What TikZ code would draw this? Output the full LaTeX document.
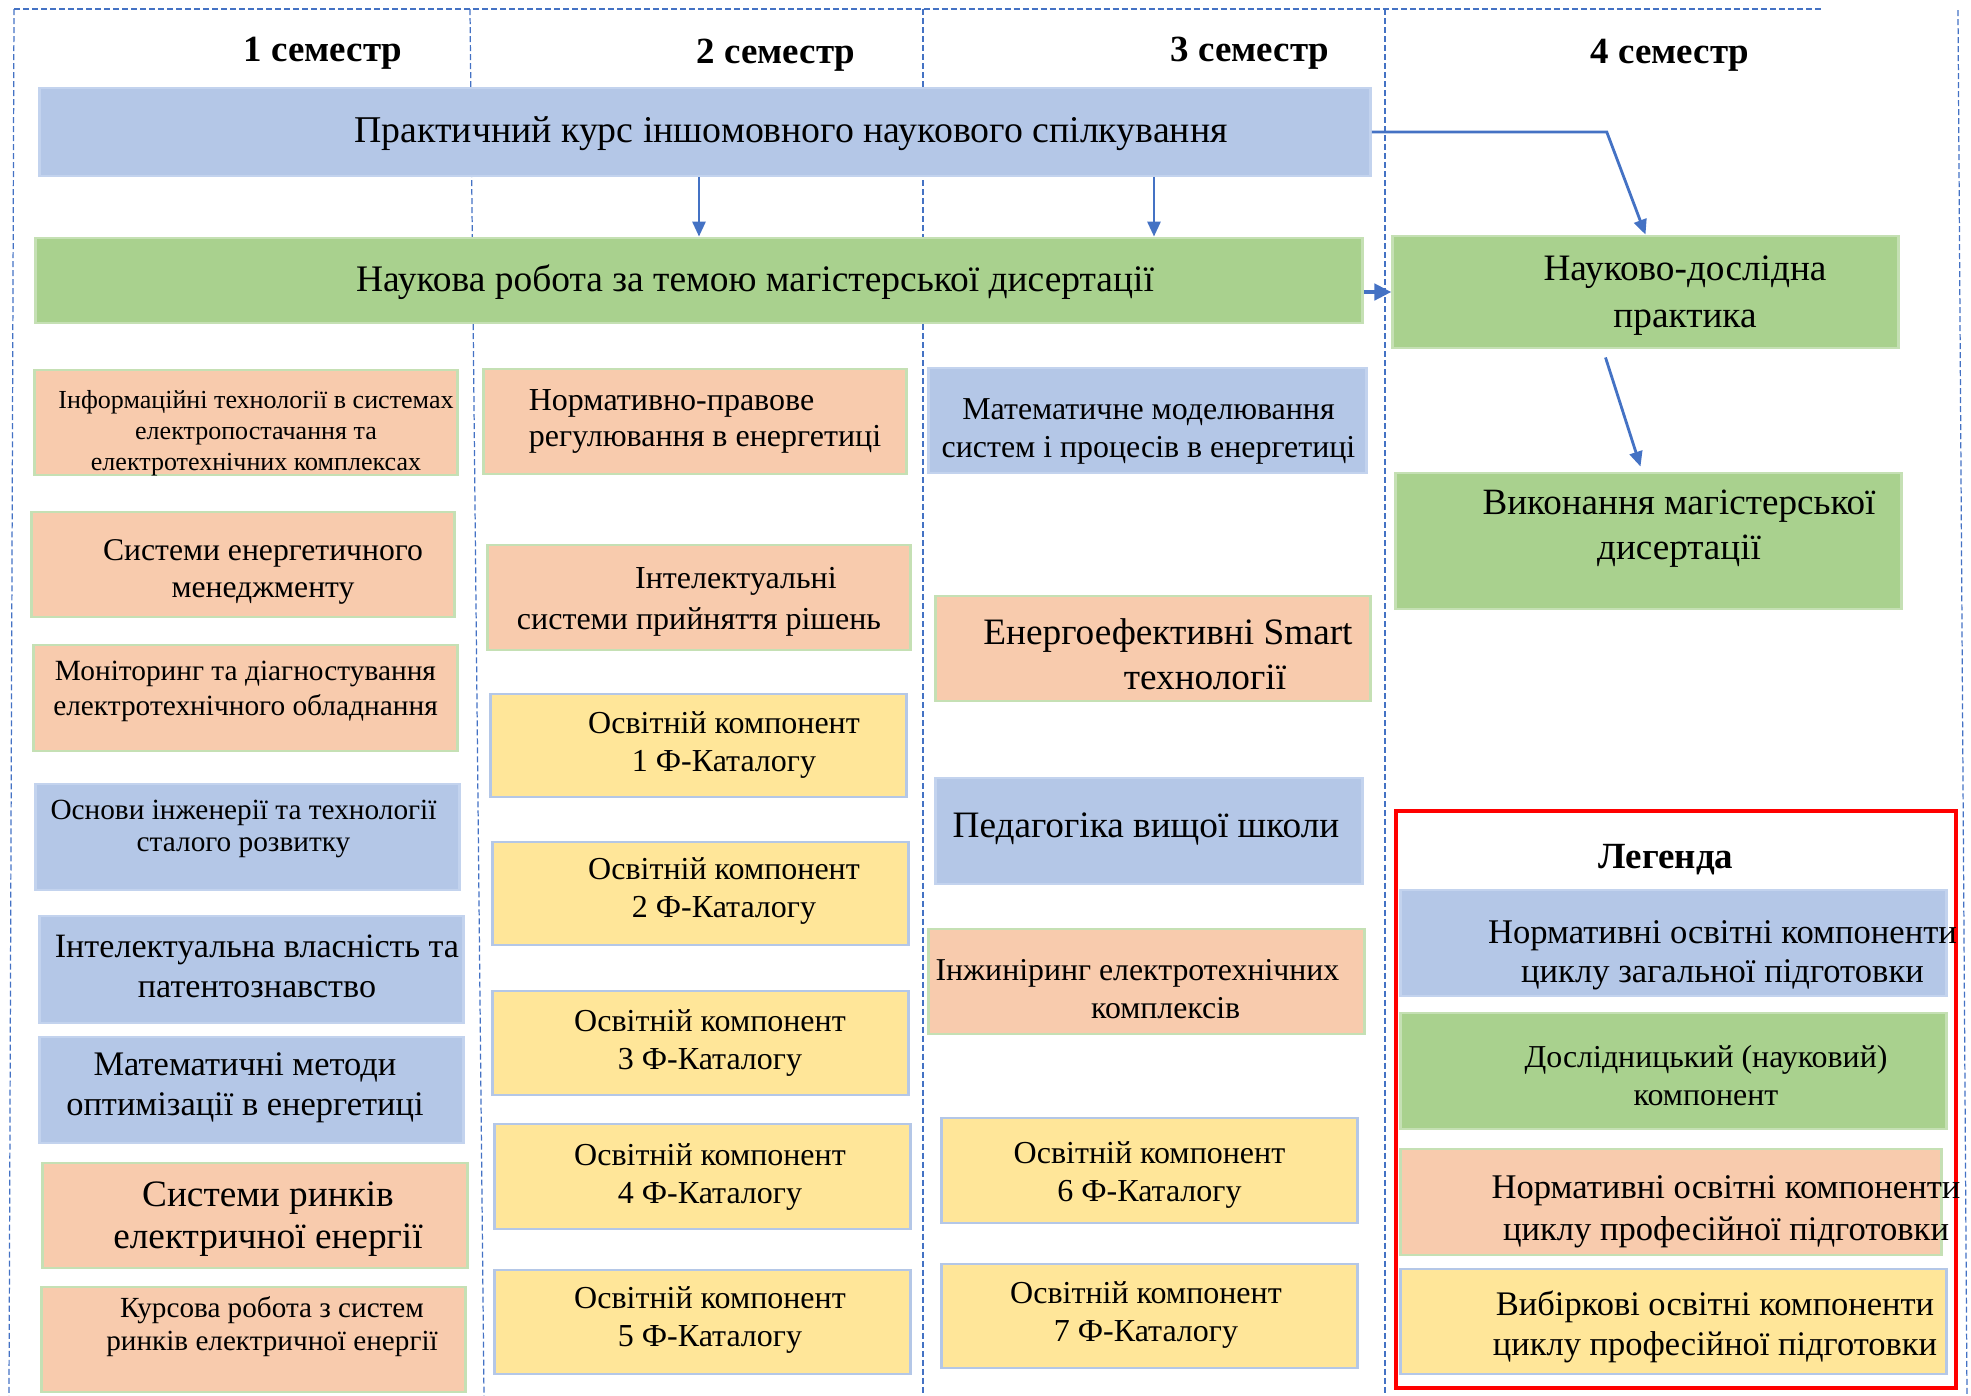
\documentclass[tikz,border=0pt]{standalone}
\usepackage{fontspec}
\setmainfont{Liberation Serif}
\usepackage{tikz}
\usetikzlibrary{arrows.meta,calc}

\definecolor{genblue}{HTML}{B4C7E7}
\definecolor{genrim}{HTML}{C3D3EE}
\definecolor{resgreen}{HTML}{A9D18E}
\definecolor{resrim}{HTML}{C5E0B4}
\definecolor{profpeach}{HTML}{F8CBAD}
\definecolor{electyellow}{HTML}{FFE699}
\definecolor{linkblue}{HTML}{4472C4}

\begin{document}
\begin{tikzpicture}[
  x=0.01cm,
  y=-0.01cm,
  >={Triangle[length=1.5mm,width=1.3mm]},
  grid/.style={draw=linkblue, line width=0.35pt, dash pattern=on 0.6mm off 0.3mm},
  link/.style={->, line width=0.8pt, draw=linkblue},
  biglink/.style={-{Triangle[length=1.7mm,width=1.6mm]}, line width=1.4pt, draw=linkblue},
  box/.style={rectangle, inner sep=0pt, line width=0.8pt},
  gen/.style={box, fill=genblue, draw=genrim},
  res/.style={box, fill=resgreen, draw=resrim},
  prof/.style={box, fill=profpeach, draw=resrim},
  elect/.style={box, fill=electyellow, draw=genblue},
  txt/.style 2 args={font=\fontsize{#1}{#2}\selectfont, align=center, inner sep=0pt},
  head/.style={font=\fontsize{10.5}{12}\selectfont\bfseries, inner sep=0pt}
]
\useasboundingbox (0,0) rectangle (1971,1396);

% semester grid
\draw[grid] (14,9) -- (1824,9);
\draw[grid] (14,9) -- (9,1396);
\draw[grid] (470,9) -- (484,1396);
\draw[grid] (923,9) -- (923,1396);
\draw[grid] (1385,9) -- (1385,1396);
\draw[grid] (1958,10) -- (1967,1396);

\node[head] (s1) at (323,53) {1 семестр};
\node[head] (s2) at (776,55) {2 семестр};
\node[head] (s3) at (1250,53) {3 семестр};
\node[head] (s4) at (1670,55) {4 семестр};

% through-going components
\node[gen, minimum width=133mm, minimum height=8.8mm,
  label={[txt={10.75}{12.5}, xshift=8.6mm, yshift=-0.2mm]center:{Практичний курс іншомовного наукового спілкування}}]
  (ipk) at (705,132) {};
\node[res, minimum width=132.6mm, minimum height=8.5mm,
  label={[txt={10.65}{12.5}, xshift=5.6mm, yshift=-0.15mm]center:{Наукова робота за темою магістерської дисертації}}]
  (nrm) at (699,280.5) {};

% semester 1
\node[prof, minimum width=42.2mm, minimum height=10.5mm,
  label={[txt={7.4}{8.8}, xshift=1mm, yshift=-1.1mm]center:{Інформаційні технології в системах\\електропостачання та\\електротехнічних комплексах}}]
  (inf) at (246,422.5) {};
\node[prof, minimum width=42.2mm, minimum height=10.5mm,
  label={[txt={9}{10.5}, xshift=2mm, yshift=-0.7mm]center:{Системи енергетичного\\менеджменту}}]
  (sem) at (243,564.5) {};
\node[prof, minimum width=42.3mm, minimum height=10.6mm,
  label={[txt={8.35}{10}, yshift=0.7mm]center:{Моніторинг та діагностування\\електротехнічного обладнання}}]
  (mon) at (245.5,698) {};
\node[gen, minimum width=42.3mm, minimum height=10.6mm,
  label={[txt={8.33}{9.1}, xshift=-0.4mm, yshift=0.8mm]center:{Основи інженерії та технології\\сталого розвитку}}]
  (osn) at (247.5,837) {};
\node[gen, minimum width=42.3mm, minimum height=10.7mm,
  label={[txt={9.7}{11.4}, xshift=0.55mm, yshift=0.3mm]center:{Інтелектуальна власність та\\патентознавство}}]
  (ipv) at (251.5,969.5) {};
\node[gen, minimum width=42.3mm, minimum height=10.6mm,
  label={[txt={9.8}{11.4}, xshift=-0.65mm, yshift=0.25mm]center:{Математичні методи\\оптимізації в енергетиці}}]
  (mmo) at (251.5,1090) {};
\node[prof, minimum width=42.4mm, minimum height=10.5mm,
  label={[txt={10.6}{12}, xshift=1.3mm, yshift=-0.4mm]center:{Системи ринків\\електричної енергії}}]
  (srk) at (255,1215.5) {};
\node[prof, minimum width=42.3mm, minimum height=10.5mm,
  label={[txt={8.3}{9.4}, xshift=1.85mm, yshift=1.25mm]center:{Курсова робота з систем\\ринків електричної енергії}}]
  (kur) at (253.5,1339.5) {};

% semester 2
\node[prof, minimum width=42.2mm, minimum height=10.5mm,
  label={[txt={9.1}{10.5}, align=left, xshift=1mm, yshift=0mm]center:{Нормативно-правове\\регулювання в енергетиці}}]
  (npr) at (695,421.5) {};
\node[prof, minimum width=42.2mm, minimum height=10.5mm,
  label={[txt={9.1}{11.7}, yshift=-0.4mm]center:{\hspace*{21pt}Інтелектуальні\\системи прийняття рішень}}]
  (isp) at (699,597.5) {};
\node[elect, minimum width=41.5mm, minimum height=10.3mm,
  label={[txt={9.1}{10.8}, xshift=2.55mm, yshift=0.05mm]center:{Освітній компонент\\1 Ф-Каталогу}}]
  (ok1) at (698.5,745.5) {};
\node[elect, minimum width=41.5mm, minimum height=10.3mm,
  label={[txt={9.1}{10.8}, xshift=2.35mm, yshift=0.25mm]center:{Освітній компонент\\2 Ф-Каталогу}}]
  (ok2) at (700.5,893.5) {};
\node[elect, minimum width=41.5mm, minimum height=10.4mm,
  label={[txt={9.1}{10.8}, xshift=0.95mm, yshift=0.05mm]center:{Освітній компонент\\3 Ф-Каталогу}}]
  (ok3) at (700.5,1043) {};
\node[elect, minimum width=41.5mm, minimum height=10.5mm,
  label={[txt={9.1}{10.8}, xshift=0.75mm, yshift=0mm]center:{Освітній компонент\\4 Ф-Каталогу}}]
  (ok4) at (702.5,1176.5) {};
\node[elect, minimum width=41.5mm, minimum height=10.4mm,
  label={[txt={9.1}{10.8}, xshift=0.75mm, yshift=0.2mm]center:{Освітній компонент\\5 Ф-Каталогу}}]
  (ok5) at (702.5,1322) {};

% semester 3
\node[gen, minimum width=43.7mm, minimum height=10.5mm,
  label={[txt={9.07}{10.8}, xshift=0.1mm, yshift=-1.05mm]center:{Математичне моделювання\\систем і процесів в енергетиці}}]
  (mmp) at (1147.5,420.5) {};
\node[prof, minimum width=43.4mm, minimum height=10.5mm,
  label={[txt={10.6}{12.8}, xshift=1.5mm, yshift=-0.55mm]center:{Енергоефективні Smart\\\hspace*{21pt}технології}}]
  (ens) at (1153,648.5) {};
\node[gen, minimum width=42.6mm, minimum height=10.6mm,
  label={[txt={10.6}{12.5}, xshift=-0.3mm, yshift=0.2mm]center:{Педагогіка вищої школи}}]
  (ped) at (1149,831) {};
\node[prof, minimum width=43.5mm, minimum height=10.5mm,
  label={[txt={9.05}{10.8}, xshift=-0.9mm, yshift=-0.75mm]center:{Інжиніринг електротехнічних\\\hspace*{16pt}комплексів}}]
  (ing) at (1146.5,981.5) {};
\node[elect, minimum width=41.5mm, minimum height=10.5mm,
  label={[txt={9.1}{10.8}, yshift=-0.45mm]center:{Освітній компонент\\6 Ф-Каталогу}}]
  (ok6) at (1149.5,1170.5) {};
\node[elect, minimum width=41.5mm, minimum height=10.4mm,
  label={[txt={9.1}{10.8}, xshift=-0.35mm, yshift=0.1mm]center:{Освітній компонент\\7 Ф-Каталогу}}]
  (ok7) at (1149.5,1316) {};

% semester 4
\node[res, minimum width=50.5mm, minimum height=11.2mm,
  label={[txt={10.6}{13.4}, xshift=3.95mm, yshift=-0.35mm]center:{Науково-дослідна\\практика}}]
  (ndp) at (1645.5,292) {};
\node[res, minimum width=50.5mm, minimum height=13.6mm,
  label={[txt={10.55}{12.8}, xshift=3.05mm, yshift=1.25mm]center:{Виконання магістерської\\дисертації}}]
  (vyk) at (1648.5,541) {};

% connectors
\draw[link] (ipk.south -| nrm.north) -- (nrm.north);
\draw[link] ($(ipk.south)+(449,0)$) -- ($(nrm.north)+(455,0)$);
\draw[link] (ipk.east) -- ++(235,0) -- (ndp.north);
\draw[biglink] (nrm.east |- ndp.west) -- (ndp.west);
\draw[link] ($(ndp.south)+(-40,8)$) -- ($(vyk.north)+(-8,-5)$);

% legend
\node[draw=red, line width=1.1pt, inner sep=0pt, minimum width=56mm, minimum height=57.7mm] (leg) at (1676,1099.5) {};
\node[head] (legt) at (1666,860) {Легенда};
\node[gen, minimum width=54.5mm, minimum height=10.6mm,
  label={[txt={9.84}{11.1}, xshift=4.9mm, yshift=-1.2mm]center:{Нормативні освітні компоненти\\циклу загальної підготовки}}]
  (lg1) at (1673.5,943) {};
\node[res, minimum width=54.5mm, minimum height=11.6mm,
  label={[txt={9.07}{10.8}, xshift=3.25mm, yshift=-0.5mm]center:{Дослідницький (науковий)\\компонент}}]
  (lg2) at (1673.5,1071) {};
\node[prof, minimum width=54mm, minimum height=10.6mm,
  label={[txt={9.84}{12}, xshift=5.5mm, yshift=-0.95mm]center:{Нормативні освітні компоненти\\циклу професійної підготовки}}]
  (lg3) at (1671,1202) {};
\node[elect, minimum width=54.5mm, minimum height=10.5mm,
  label={[txt={9.8}{11.4}, xshift=4.15mm, yshift=-0.5mm]center:{Вибіркові освітні компоненти\\циклу професійної підготовки}}]
  (lg4) at (1673.5,1321.5) {};

\end{tikzpicture}
\end{document}
